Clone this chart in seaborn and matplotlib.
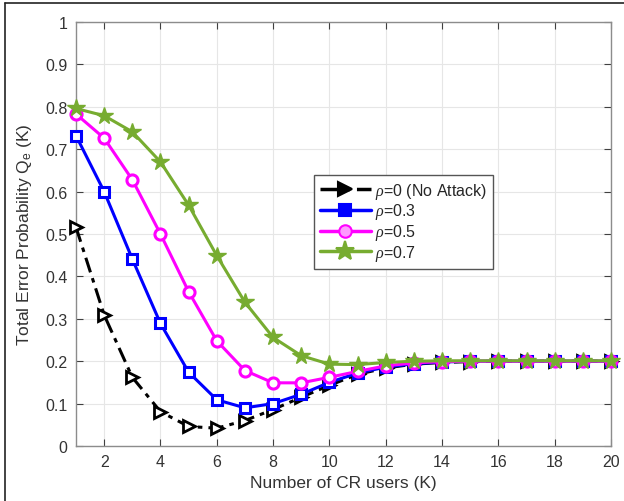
import numpy as np
import pandas as pd
import matplotlib
matplotlib.use("Agg")
import matplotlib.pyplot as plt
from matplotlib.lines import Line2D
import seaborn as sns

# Number of CR users
K = list(range(1, 21))

# Total error probability for each attack strength rho
qe_rho0 = [0.516, 0.309, 0.162, 0.081, 0.046, 0.042, 0.060, 0.086, 0.115, 0.143,
           0.169, 0.184, 0.193, 0.197, 0.199, 0.200, 0.200, 0.200, 0.200, 0.200]
qe_rho03 = [0.732, 0.600, 0.441, 0.289, 0.174, 0.109, 0.090, 0.100, 0.122, 0.150,
            0.172, 0.186, 0.194, 0.198, 0.200, 0.200, 0.200, 0.200, 0.200, 0.200]
qe_rho05 = [0.783, 0.726, 0.628, 0.500, 0.364, 0.248, 0.178, 0.149, 0.149, 0.162,
            0.176, 0.189, 0.196, 0.199, 0.200, 0.200, 0.200, 0.200, 0.200, 0.200]
qe_rho07 = [0.796, 0.779, 0.741, 0.670, 0.568, 0.449, 0.339, 0.256, 0.213, 0.193,
            0.192, 0.197, 0.200, 0.201, 0.201, 0.201, 0.201, 0.201, 0.201, 0.201]

series_labels = [r"$\rho$=0 (No Attack)", r"$\rho$=0.3", r"$\rho$=0.5", r"$\rho$=0.7"]
series_values = [qe_rho0, qe_rho03, qe_rho05, qe_rho07]

df = pd.DataFrame({
    "K": K * len(series_labels),
    "Qe": sum(series_values, []),
    "rho": np.repeat(series_labels, len(K)),
})

sns.set_style("white")
plt.rcParams["font.family"] = ["Liberation Sans", "DejaVu Sans"]
plt.rcParams["mathtext.fontset"] = "custom"
plt.rcParams["mathtext.it"] = "Liberation Serif:italic"
plt.rcParams["mathtext.rm"] = "Liberation Sans"

fig = plt.figure(figsize=(6.24, 5.02), dpi=100)
ax = fig.add_axes([76 / 624, 1 - 447 / 502, (611 - 76) / 624, (447 - 23) / 502])

styles = {
    series_labels[0]: dict(color="black", ls=(0, (5, 2, 1.5, 2)), marker=">", mfc="white", mec="black", ms=8.5, mew=2.0),
    series_labels[1]: dict(color="#0000ff", ls="-", marker="s", mfc="white", mec="#0000ff", ms=7, mew=2.2),
    series_labels[2]: dict(color="#ff00ff", ls="-", marker="o", mfc="white", mec="#ff00ff", ms=8, mew=2.2),
    series_labels[3]: dict(color="#77ac30", ls="-", marker="*", mfc="#77ac30", mec="#77ac30", ms=13, mew=1.0),
}

for lab in series_labels:
    st = styles[lab]
    sub = df[df["rho"] == lab]
    sns.lineplot(data=sub, x="K", y="Qe", ax=ax, color=st["color"], linewidth=2.2,
                 linestyle=st["ls"], marker=st["marker"], markerfacecolor=st["mfc"],
                 markeredgecolor=st["mec"], markersize=st["ms"], markeredgewidth=st["mew"],
                 legend=False, errorbar=None, zorder=3, clip_on=False)

ax.set_xlim(1, 20)
ax.set_ylim(0, 1)
ax.set_xticks(range(2, 21, 2))
ax.set_yticks(np.round(np.arange(0, 1.01, 0.1), 1))
ax.set_yticklabels(["0"] + [f"{v:.1f}" for v in np.arange(0.1, 0.95, 0.1)] + ["1"])
ax.grid(True, color="#e6e6e6", linewidth=0.8)
ax.set_axisbelow(True)
for s in ax.spines.values():
    s.set_color("#8c8c8c")
    s.set_linewidth(1.0)
    s.set_visible(True)
ax.tick_params(direction="in", length=5, width=0.8, color="#404040",
               labelsize=11.5, labelcolor="#333333", top=True, right=True,
               bottom=True, left=True, pad=6)

ax.set_xlabel("Number of CR users (K)", fontsize=12.5, color="#333333", labelpad=4)
ax.set_ylabel("Total Error Probability Q$_\\mathrm{e}$ (K)", fontsize=12.5, color="#333333", labelpad=8)

handles = []
for lab in series_labels:
    st = styles[lab]
    face = st["color"] if lab != series_labels[2] else "#ff99ff"
    handles.append(Line2D([], [], color=st["color"], lw=2.5, ls=st["ls"], marker=st["marker"],
                          mfc=face, mec=st["color"], ms=st["ms"] + 1, mew=1.5))
leg = ax.legend(handles, series_labels, loc="upper left",
                bbox_to_anchor=((314 - 76) / 535, (447 - 176) / 424),
                fontsize=11.5, frameon=True, fancybox=False, framealpha=1,
                edgecolor="#555555", handlelength=3.2, borderpad=0.35,
                labelspacing=0.05, handletextpad=0.3, borderaxespad=0)
leg.get_frame().set_linewidth(1.0)

# outer frame of the figure
fig.add_artist(Line2D([5 / 624, 5 / 624], [0, 1 - 4 / 502], color="#222222", lw=1.2,
                      transform=fig.transFigure))
fig.add_artist(Line2D([5 / 624, 1], [1 - 4 / 502, 1 - 4 / 502], color="#222222", lw=1.2,
                      transform=fig.transFigure))

fig.savefig("out.png", dpi=100)
